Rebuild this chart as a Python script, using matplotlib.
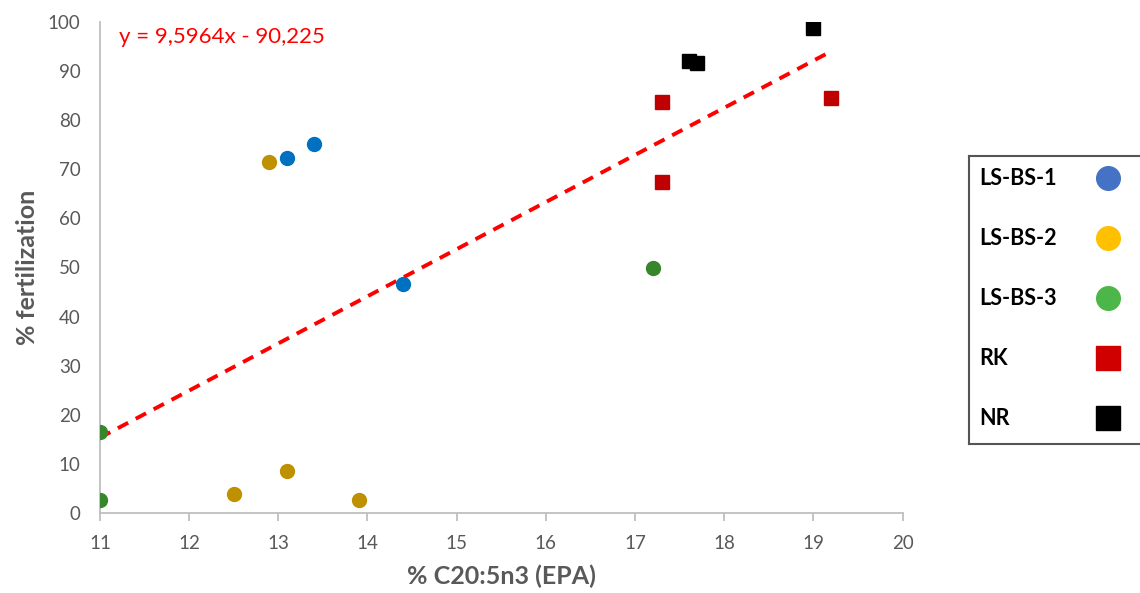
import numpy as np
import matplotlib.pyplot as plt

plt.rcParams['font.family'] = ['Lato', 'DejaVu Sans']

# data
bs1_x = [13.1, 13.4, 14.4]
bs1_y = [72.3, 75.2, 46.7]
bs2_x = [12.9, 12.5, 13.1, 13.9]
bs2_y = [71.4, 3.9, 8.5, 2.6]
bs3_x = [11.0, 11.0, 17.2]
bs3_y = [16.5, 2.6, 49.9]
rk_x = [17.3, 17.3, 19.2]
rk_y = [83.6, 67.4, 84.6]
nr_x = [17.6, 17.7, 19.0]
nr_y = [92.1, 91.7, 98.8]

slope, intercept = 9.5964, -90.225
legend_labels = ['LS-BS-1', 'LS-BS-2', 'LS-BS-3', 'RK', 'NR']
legend_markers = ['o', 'o', 'o', 's', 's']
legend_colors = ['#4472C4', '#FFC000', '#4CB648', '#D00000', 'black']

fig = plt.figure(figsize=(11.4, 5.93), dpi=100)
ax = fig.add_axes([0.0877, 0.135, 0.704, 0.828])

ax.plot(bs1_x, bs1_y, 'o', color='#0070C0', markersize=10, zorder=3)
ax.plot(bs2_x, bs2_y, 'o', color='#BF9000', markersize=10, zorder=3)
ax.plot(bs3_x, bs3_y, 'o', color='#38862B', markersize=10, zorder=3)
ax.plot(rk_x, rk_y, 's', color='#C00000', markersize=10, zorder=3)
ax.plot(nr_x, nr_y, 's', color='black', markersize=10, zorder=3)

# linear trendline over the range of the points
all_x = np.array(bs1_x + bs2_x + bs3_x + rk_x + nr_x)
tx = np.array([all_x.min(), all_x.max()])
ax.plot(tx, slope * tx + intercept, '--', color='#FF0000', lw=2.8,
        dashes=(3, 2.2), zorder=2)
ax.text(0.024, 0.97, 'y = 9,5964x - 90,225', transform=ax.transAxes,
        color='#FF0000', fontsize=16, va='center', ha='left')

ax.set_xlim(11, 20)
ax.set_ylim(0, 100)
ax.set_xticks(range(11, 21))
ax.set_yticks(range(0, 101, 10))
for s in ['top', 'right']:
    ax.spines[s].set_visible(False)
for s in ['left', 'bottom']:
    ax.spines[s].set_color('#BFBFBF')
    ax.spines[s].set_linewidth(1.3)
ax.tick_params(axis='x', colors='#BFBFBF', length=6, width=1.3,
               labelcolor='#595959', labelsize=13.5, pad=10)
ax.tick_params(axis='y', length=0, labelcolor='#595959', labelsize=13.5, pad=14)
ax.set_xlabel('% C20:5n3 (EPA)', fontsize=18, fontweight='bold',
              color='#595959', labelpad=9)
ax.set_ylabel('% fertilization', fontsize=18, fontweight='bold',
              color='#595959', labelpad=6)

# boxed legend on the right, its right side cut off by the figure edge
lax = fig.add_axes([969 / 1140, 1 - 444 / 593, 0.16, 288 / 593])
lax.set_xlim(0, 1)
lax.set_ylim(4.433, -0.367)
lax.set_xticks([])
lax.set_yticks([])
lax.spines['right'].set_visible(False)
for s in ['left', 'top', 'bottom']:
    lax.spines[s].set_color('#555555')
    lax.spines[s].set_linewidth(1.5)
for i, (lab, m, c) in enumerate(zip(legend_labels, legend_markers, legend_colors)):
    lax.text(0.055, i, lab, fontsize=15.5, fontweight='bold', color='black',
             va='center', ha='left')
    lax.plot(0.764, i, m, color=c, markersize=17 if m == 'o' else 17.5)

fig.savefig('out.png', dpi=100)
